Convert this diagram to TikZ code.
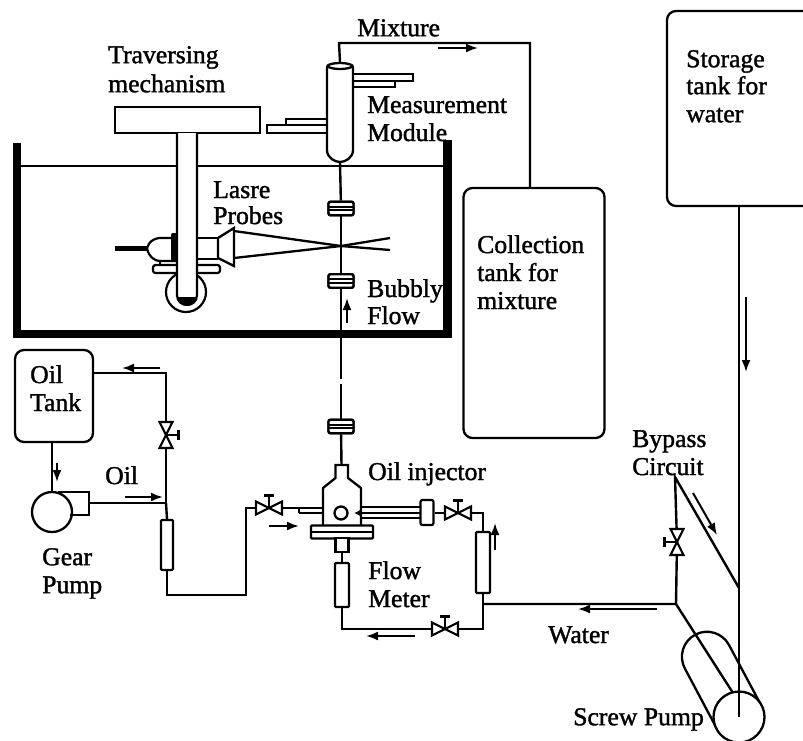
\documentclass[tikz,border=0pt]{standalone}
\usepackage{fontspec}
\setmainfont[FakeBold=1.4]{Liberation Serif}
\usetikzlibrary{arrows.meta,calc}
\tikzset{
  pipe/.style={line width=2.4pt},
  lbl/.style={anchor=north west,inner sep=0pt,align=left,font=\fontsize{25.7}{28}\selectfont},
  tank/.style={draw,line width=2.3pt,rounded corners=9pt,inner sep=0pt,fill=white},
  part/.style={draw,line width=2.2pt,rectangle,inner sep=0pt,fill=white},
  flange/.style={part,line width=2.4pt,rounded corners=2pt,minimum width=25pt,minimum height=13.5pt,path picture={\draw[line width=1.7pt] ([yshift=1.7pt]path picture bounding box.west) -- ([yshift=1.7pt]path picture bounding box.east) ([yshift=-1.7pt]path picture bounding box.west) -- ([yshift=-1.7pt]path picture bounding box.east);}},
  meter/.style={part,rounded corners=1pt},
  flowarrow/.style={line width=2pt,-{Latex[length=12pt,width=9pt]}},
  valve/.pic={
    \draw[line width=2.1pt,fill=white] (0,0)--(-13,-6.5)--(-13,6.5)--cycle;
    \draw[line width=2.1pt,fill=white] (0,0)--(13,-6.5)--(13,6.5)--cycle;
    \draw[line width=2.1pt] (0,0)--(0,-12.5) (-5,-12.5)--(5,-12.5);
  }
}
\begin{document}
\begin{tikzpicture}[x=1pt,y=-1pt]
\useasboundingbox (0,0) rectangle (803,740);
% tanks
\node[tank,minimum width=145pt,minimum height=195pt] (storage) at (739.5,108.5) {};
\node[tank,minimum width=141pt,minimum height=250pt] (collect) at (534,313) {};
\node[tank,minimum width=78pt,minimum height=92pt] (oiltank) at (54,396) {};
% water bath
\draw[line width=1.9pt] (17,166)--(447,166);
\draw[line width=8.5pt,line join=miter] (17,143)--(17,334)--(447.5,334)--(447.5,140);
% traversing mechanism
\node[part,minimum width=145pt,minimum height=26pt] (trav) at (187.5,120) {};
\draw[line width=2.2pt] (186,292) circle[radius=20];
% probe
\draw[line width=5pt] (115,248)--(149,248);
\draw[line width=2.2pt,rounded corners=5pt,fill=white] (177,238)--(155,238)--(147,245)--(147,252)--(155,261)--(177,261);
\fill[rounded corners=2pt] (171,233) rectangle (178,261);
\draw[line width=2.2pt] (160,261)--(160,265) (177,261)--(177,265);
\node[part,rounded corners=2.5pt,minimum width=67pt,minimum height=8pt] (probebase) at (186.5,269) {};
\draw[line width=2.2pt,fill=white] (177,133)--(177,295) .. controls (177,308) and (197,308) .. (197,295)--(197,133);
\fill (177,297)--(197,297) .. controls (197,309) and (177,309) .. (177,297)--cycle;
\draw[line width=2.2pt] (197,238)--(218,238) (197,259)--(218,259);
\draw[line width=2.3pt,fill=white] (218,238)--(234,228)--(234,266)--(218,258)--cycle;
\coordinate (focus) at (341,246);
\draw[line width=2.3pt] (234,231)--(focus)--(390,238);
\draw[line width=2.3pt] (234,258)--(focus)--(390,250);
% measurement module and main pipe
\coordinate (mtop) at (340,62);
\coordinate (mbot) at (340,162);
\node[flange] (c1) at (341,208.5) {};
\node[flange] (c2) at (341,281) {};
\node[flange] (c3) at (341,426.5) {};
\coordinate (injtop) at (341.5,465);
\coordinate (gapa) at (341,379);
\coordinate (gapb) at (341,384);
\draw[pipe] (mbot)--(c1);
\draw[pipe] (c1)--(c2);
\draw[pipe] (c2)--(gapa);
\draw[pipe] (gapb)--(c3);
\draw[pipe] (c3)--(injtop);
\node[flange] at (c1) {};
\node[flange] at (c2) {};
\node[flange] at (c3) {};
\draw[line width=2pt,fill=white] (353,74) rectangle (413,81);
\draw[line width=2pt,fill=white] (353,81) rectangle (395,87);
\draw[line width=2pt,fill=white] (267,125) rectangle (327,133);
\draw[line width=2pt,fill=white] (286,119) rectangle (327,125);
\draw[line width=2.3pt,fill=white] (327,66)--(327,150) .. controls (327,158) and (335,162) .. (340,162) .. controls (345,162) and (353,158) .. (353,150)--(353,66);
\draw[line width=2.3pt] (327,66) .. controls (331,70) and (349,70) .. (353,66);
\draw[line width=2.3pt] (327,66) .. controls (331,62) and (349,62) .. (353,66);
% mixture line
\coordinate (mixa) at (339,43);
\coordinate (mixb) at (530,43);
\draw[pipe] (mtop)--(mixa)--(mixb)--(mixb|-collect.north);
\draw[flowarrow] (438,48)--(478,48);
% oil circuit
\node[draw,circle,line width=2.3pt,fill=white,minimum size=40pt,inner sep=0pt] (gear) at (52,512) {};
\coordinate (gout) at (89,503);
\draw[line width=2.2pt] (58,492)--(89,492)--(89,515)--(70,515);
\coordinate (oila) at (166,373);
\coordinate (v1) at (166,435);
\coordinate (oilj) at (166,503);
\node[meter,minimum width=12pt,minimum height=50pt] (rot1) at (167,545) {};
\coordinate (oilb) at (167,595);
\coordinate (oilc) at (246,595);
\coordinate (oild) at (246,508);
\coordinate (v2) at (269,508);
\coordinate (inj1) at (323,508);
\draw[pipe] (oiltank.east|-oila)--(oila)--(v1)--(oilj);
\draw[pipe] (oilj)--(rot1.north);
\draw[pipe] (gear.north)--(gear.north|-oiltank.south);
\draw[pipe] (gout)--(oilj);
\draw[pipe] (rot1.south)--(oilb)--(oilc)--(oild)--(v2)--(inj1);
\draw[line width=1.8pt] (299,513)--(323,513) (299,508)--(299,513);
\draw[flowarrow] (57,463)--(57,482);
\draw[flowarrow] (160,368)--(122,368);
\draw[flowarrow] (125,497)--(163,497);
\draw[flowarrow] (269,526)--(299,526);
\pic[rotate=-90] at (v1) {valve};
\pic at (v2) {valve};
% injector
\draw[line width=2.3pt,fill=white] (335.5,465)--(335.5,478)--(323,488)--(323,526)--(361,526)--(361,488)--(348,478)--(348,465)--cycle;
\node[part,rounded corners=1pt,minimum width=62pt,minimum height=13pt,path picture={\draw[line width=1.8pt] (path picture bounding box.west) -- (path picture bounding box.east);}] (injfl) at (342,532) {};
\node[part,minimum width=13pt,minimum height=14pt] (injbox) at (342,545) {};
\node[draw,circle,line width=2.3pt,minimum size=13pt,inner sep=0pt] (injc) at (341,513) {};
\draw[line width=1.9pt] (361,507)--(421,507) (361,513)--(421,513) (361,518)--(421,518);
\draw[line width=1.9pt,-{Latex[length=6pt,width=6pt]}] (362,513)--(354,513);
\node[part,rounded corners=2pt,minimum width=13pt,minimum height=25pt] (wbox) at (427,512.5) {};
% water circuit
\node[meter,minimum width=14pt,minimum height=44pt] (rot2) at (342,585) {};
\node[meter,minimum width=14pt,minimum height=61pt] (rot3) at (483,562.5) {};
\coordinate (wa) at (342,629);
\coordinate (v3) at (445,629);
\coordinate (wb) at (483,629);
\coordinate (wj) at (483,604);
\coordinate (wc) at (483,513);
\coordinate (v4) at (458,513);
\coordinate (wk) at (676,604);
\coordinate (v5) at (677,542);
\coordinate (bt) at (675,477);
\coordinate (bb) at (739,588);
\draw[pipe] (injbox.south)--(rot2.north);
\draw[pipe] (rot2.south)--(wa)--(v3)--(wb)--(rot3.south);
\draw[pipe] (rot3.north)--(wc)--(v4)--(wbox.east|-v4);
\draw[pipe] (wj)--(wk)--(v5)--(bt)--(bb);
\draw[flowarrow] (495,550)--(495,523);
\draw[flowarrow] (415,636)--(366,636);
\draw[flowarrow] (657,609)--(578,609);
\draw[flowarrow] (347,323)--(347,298);
\draw[flowarrow] (693,493)--(717,535);
\draw[flowarrow] (746,297)--(746,372);
\pic at (v3) {valve};
\pic at (v4) {valve};
\pic[rotate=90] at (v5) {valve};
% screw pump
\coordinate (sp) at (733,693);
\draw[line width=2.3pt] (761,705)--(729,645) arc[start angle=28,end angle=208,radius=25pt]--(717,729);
\draw[pipe] (wk)--(sp);
\node[draw,circle,line width=2.3pt,fill=white,minimum size=51pt,inner sep=0pt] (screw) at (739,717) {};
\draw[pipe] (storage.south-|screw.center)--(screw.center);
% labels
\node[lbl] (t1) at (108,46) {Traversing\\[1pt]mechanism};
\node[lbl] (t2) at (357,19) {Mixture};
\node[lbl] (t3) at (367,96) {Measurement\\Module};
\node[lbl] (t4) at (213,181) {Lasre\\[-2pt]Probes};
\node[lbl] (t5) at (367,279) {Bubbly\\[-1pt]Flow};
\node[lbl] (t6) at (686,50) {Storage\\[-1pt]tank for\\water};
\node[lbl] (t7) at (477,235) {Collection\\tank for\\mixture};
\node[lbl] (t8) at (30,365) {Oil\\Tank};
\node[lbl] (t9) at (105,466) {Oil};
\node[lbl] (t10) at (42,548) {Gear\\Pump};
\node[lbl] (t11) at (368,462) {Oil injector};
\node[lbl] (t12) at (368,561) {Flow\\Meter};
\node[lbl] (t13) at (548,626) {Water};
\node[lbl] (t14) at (632,430) {Bypass\\Circuit};
\node[lbl] (t15) at (573,708) {Screw Pump};
\end{tikzpicture}
\end{document}
